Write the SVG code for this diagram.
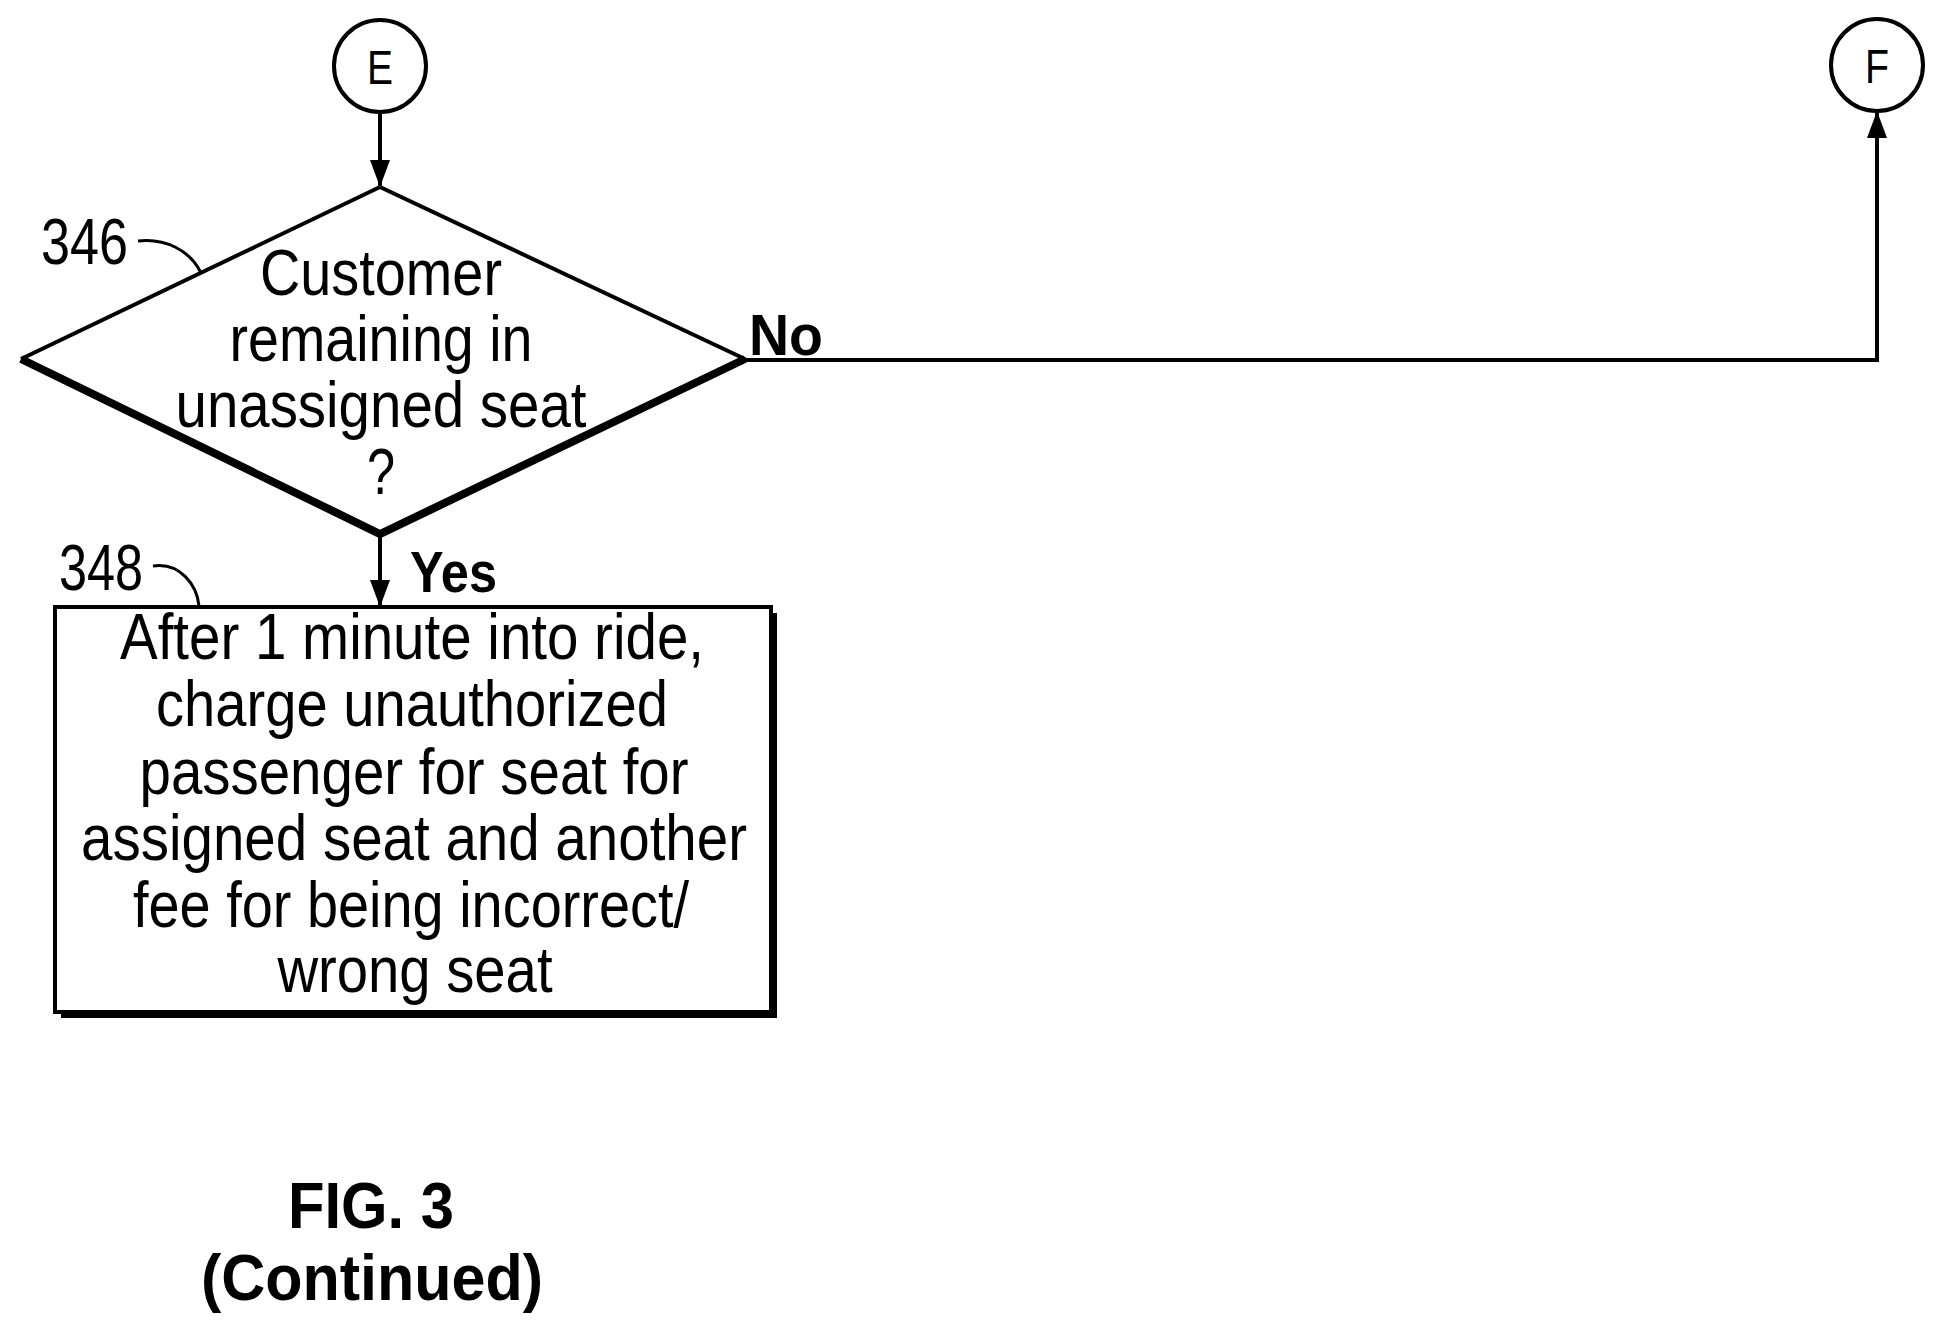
<svg xmlns="http://www.w3.org/2000/svg" width="1945" height="1340" viewBox="0 0 1945 1340">
<style>
text{font-family:"Liberation Sans",Arial,sans-serif;fill:#000}
.t{font-size:64px;text-anchor:middle}
.b{font-weight:bold}
.ln{fill:none;stroke:#000;stroke-width:4}
</style>
<defs>
<marker id="ah" markerWidth="10" markerHeight="10" refX="9" refY="5" orient="auto" markerUnits="userSpaceOnUse" viewBox="0 0 10 10"><path d="M0,0 L10,5 L0,10 Z" fill="#000"/></marker>
</defs>
<rect width="1945" height="1340" fill="#fff"/>
<g id="connectors">
<line class="ln" x1="380" y1="114" x2="380" y2="186" marker-end="url(#ah)" style="marker-end:none"/>
<path d="M370,160 L390,160 L380,187 Z"/>
<line class="ln" x1="380" y1="534" x2="380" y2="606"/>
<path d="M370,580 L390,580 L380,607 Z"/>
<polyline class="ln" points="745,360 1877,360 1877,112"/>
<path d="M1867,138 L1887,138 L1877,111 Z"/>
<path class="ln" d="M138,241 C165,238 190,250 201,273" style="stroke-width:3"/>
<path class="ln" d="M153,566 C180,562 197,585 199,606" style="stroke-width:3"/>
</g>
<g id="E"><circle cx="380" cy="66" r="46" class="ln"/><text x="380" y="84" font-size="48" text-anchor="middle" textLength="26" lengthAdjust="spacingAndGlyphs">E</text></g>
<g id="F"><circle cx="1877" cy="65" r="46" class="ln"/><text x="1877" y="83" font-size="48" text-anchor="middle" textLength="24" lengthAdjust="spacingAndGlyphs">F</text></g>
<g id="n346">
<path d="M380,187 L745,359 M21,359 L380,187" class="ln"/>
<path d="M21,359 L380,534 L745,359" fill="none" stroke="#000" stroke-width="8"/>
<text class="t" x="381" y="295" textLength="242" lengthAdjust="spacingAndGlyphs">Customer</text>
<text class="t" x="381" y="361" textLength="303" lengthAdjust="spacingAndGlyphs">remaining in</text>
<text class="t" x="381" y="427" textLength="411" lengthAdjust="spacingAndGlyphs">unassigned seat</text>
<text class="t" x="381" y="494" textLength="28" lengthAdjust="spacingAndGlyphs">?</text>
<text x="41" y="264" font-size="64" textLength="87" lengthAdjust="spacingAndGlyphs">346</text>
<text class="b" x="749" y="355" font-size="58" textLength="74" lengthAdjust="spacingAndGlyphs">No</text>
<text class="b" x="410" y="592" font-size="58" textLength="87" lengthAdjust="spacingAndGlyphs">Yes</text>
</g>
<g id="n348">
<rect x="61" y="613" width="716" height="405" fill="#000"/>
<rect x="55" y="607" width="716" height="405" fill="#fff" stroke="#000" stroke-width="4"/>
<text x="59" y="590" font-size="64" textLength="84" lengthAdjust="spacingAndGlyphs">348</text>
<text class="t" x="412" y="659" textLength="584" lengthAdjust="spacingAndGlyphs">After 1 minute into ride,</text>
<text class="t" x="412" y="726" textLength="512" lengthAdjust="spacingAndGlyphs">charge unauthorized</text>
<text class="t" x="414" y="794" textLength="549" lengthAdjust="spacingAndGlyphs">passenger for seat for</text>
<text class="t" x="414" y="860" textLength="666" lengthAdjust="spacingAndGlyphs">assigned seat and another</text>
<text class="t" x="411" y="927" textLength="556" lengthAdjust="spacingAndGlyphs">fee for being incorrect/</text>
<text class="t" x="415" y="992" textLength="275" lengthAdjust="spacingAndGlyphs">wrong seat</text>
</g>
<g id="caption">
<text class="t b" x="371" y="1228" font-size="66" textLength="166" lengthAdjust="spacingAndGlyphs">FIG. 3</text>
<text class="t b" x="372" y="1300" font-size="66" textLength="342" lengthAdjust="spacingAndGlyphs">(Continued)</text>
</g>
</svg>
